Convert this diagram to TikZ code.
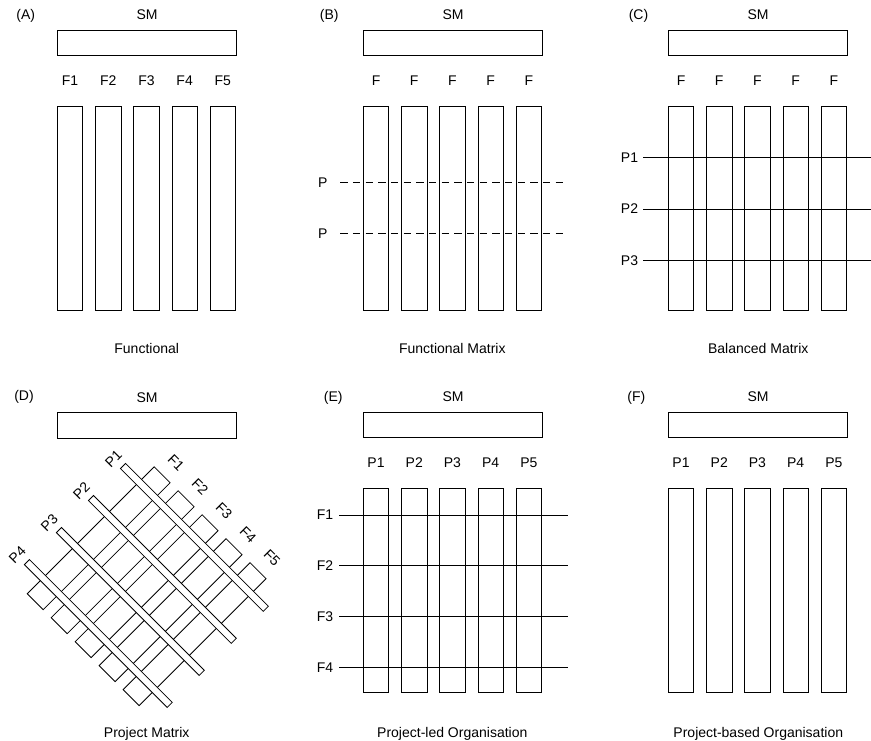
\documentclass[tikz,border=0pt]{standalone}
\usepackage{fontspec}
\setmainfont{Liberation Sans}
\begin{document}
\begin{tikzpicture}[x=0.75pt,y=-0.75pt,
  box/.style={draw=black, fill=white, line width=0.6pt},
  rule/.style={draw=black, line width=0.6pt},
  dashrule/.style={rule, dash pattern=on 5.5pt off 4pt},
  lbl/.style={font=\fontsize{10.5}{12}\selectfont, inner sep=0pt, text=black}]
\useasboundingbox (0,0) rectangle (871,741);

% one organisation panel: SM box on top, five labelled columns below
\newcommand{\orgpanel}[2]{%
  \node[lbl] (#1-sm) at (147,15) {SM};
  \draw[box] (57.3,30.7) rectangle (236,55.7);
  \foreach \t [count=\k from 0] in {#2} {
    \draw[box] ({57.3+38.2*\k},106.7) rectangle ({82.8+38.2*\k},310.7);
    \node[lbl] (#1-c\k) at ({70.05+38.2*\k},81) {\t};
  }
}
% a box given by two opposite corners in the current (possibly skewed) axes
\newcommand{\tiltbox}[4]{%
  \draw[box] (#1,#2) -- (#3,#2) -- (#3,#4) -- (#1,#4) -- cycle;
}

% (A) Functional
\begin{scope}
  \orgpanel{a}{F1,F2,F3,F4,F5}
  \node[lbl] (a-tag) at (25.8,16) {(A)};
  \node[lbl] (a-cap) at (146.7,348.3) {Functional};
\end{scope}

% (B) Functional Matrix
\begin{scope}[shift={(306,0)}]
  \orgpanel{b}{F,F,F,F,F}
  \node[lbl] (b-tag) at (23.3,16) {(B)};
  \foreach \y [count=\k] in {182.7,233.3} {
    \node[lbl] (b-p\k) at (16.7,\y) {P};
    \coordinate (b-e\k) at (262,\y);
    \draw[dashrule] ([xshift=9.5pt]b-p\k.east) -- (b-e\k);
  }
  \node[lbl] (b-cap) at (146.3,348.3) {Functional Matrix};
\end{scope}

% (C) Balanced Matrix
\begin{scope}[shift={(611,0)}]
  \orgpanel{c}{F,F,F,F,F}
  \node[lbl] (c-tag) at (27.5,16) {(C)};
  \foreach \y [count=\k] in {157.7,209,260.3} {
    \node[lbl] (c-p\k) at (18.5,\y) {P\k};
    \coordinate (c-e\k) at (260,\y);
    \draw[rule] ([xshift=3.5pt]c-p\k.east) -- (c-e\k);
  }
  \node[lbl] (c-cap) at (147.3,348.3) {Balanced Matrix};
\end{scope}

% (D) Project Matrix
\begin{scope}[shift={(0,382)}]
  \node[lbl] (d-sm) at (147,15.3) {SM};
  \draw[box] (57.3,30.3) rectangle (236,56.3);
  \node[lbl] (d-tag) at (24,15.3) {(D)};
  \node[lbl] (d-cap) at (146.7,351.5) {Project Matrix};
  % diagonal grid: local x runs down-right, local y runs up-right
  \begin{scope}[shift={(123,84)}, x={(0.53033pt,-0.53033pt)}, y={(0.53033pt,0.53033pt)}]
    \foreach \k in {0,...,4} {
      \tiltbox{22.6+33.9*\k}{-158}{45.2+33.9*\k}{21.5}
      \pgfmathtruncatemacro{\n}{\k+1}
      \node[lbl, rotate=-45] (d-f\n) at ({35+33.9*\k},40) {F\n};
    }
    \foreach \k in {0,...,3} {
      \tiltbox{0}{-45.3*\k-3.6}{202}{-45.3*\k+3.6}
      \pgfmathtruncatemacro{\n}{\k+1}
      \node[lbl, rotate=45] (d-p\n) at (-12,{-45.3*\k-1.5}) {P\n};
    }
  \end{scope}
\end{scope}

% (E) Project-led Organisation
\begin{scope}[shift={(306,382)}]
  \orgpanel{e}{P1,P2,P3,P4,P5}
  \node[lbl] (e-tag) at (27.3,16.3) {(E)};
  \foreach \y [count=\k] in {133,183.7,234.7,285.3} {
    \node[lbl] (e-f\k) at (19,\y) {F\k};
    \coordinate (e-e\k) at (262.3,\y);
    \draw[rule] ([xshift=4.5pt]e-f\k.east) -- (e-e\k);
  }
  \node[lbl] (e-cap) at (146.3,351.5) {Project-led Organisation};
\end{scope}

% (F) Project-based Organisation
\begin{scope}[shift={(611,382)}]
  \orgpanel{f}{P1,P2,P3,P4,P5}
  \node[lbl] (f-tag) at (25.3,16.3) {(F)};
  \node[lbl] (f-cap) at (147.3,351.5) {Project-based Organisation};
\end{scope}

\end{tikzpicture}
\end{document}
